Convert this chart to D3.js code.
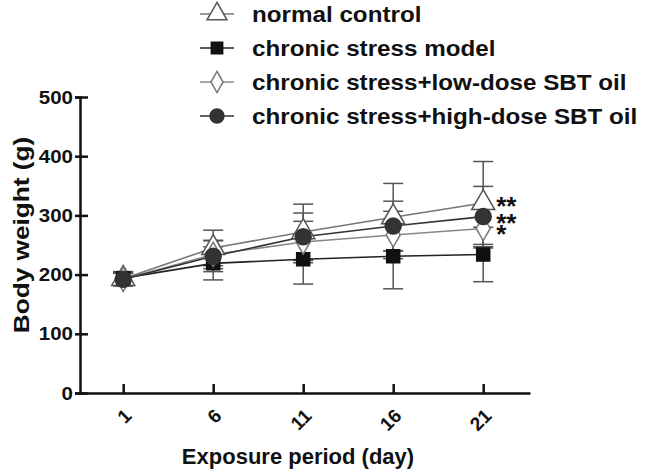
<!DOCTYPE html>
<html>
<head>
<meta charset="utf-8">
<script src="https://cdn.jsdelivr.net/npm/d3@7"></script>
<style>
  body { margin: 0; background: #fff; }
  text { font-family: Arial, "Liberation Sans", sans-serif; font-weight: bold; fill: #111; }
</style>
</head>
<body>
<svg id="chart" width="647" height="471"></svg>
<script>
const days = [1, 6, 11, 16, 21];
const seriesNames = ['normal control', 'chronic stress model', 'chronic stress+low-dose SBT oil', 'chronic stress+high-dose SBT oil'];
const normalMean = [193, 245, 272, 297, 321];
const normalSd = [12, 30, 47, 57, 70];
const modelMean = [194, 219, 226, 231, 234];
const modelSd = [11, 28, 42, 55, 46];
const lowMean = [192, 234, 255, 267, 278];
const lowSd = [10, 24, 35, 40, 33];
const highMean = [192, 231, 264, 282, 298];
const highSd = [11, 26, 40, 42, 51];
const stars = ['**', '', '*', '**'];
const yTicks = [0, 100, 200, 300, 400, 500];

const series = [
  {name: seriesNames[0], mean: normalMean, sd: normalSd, shape: d3.symbolTriangle, fill: '#fff', stroke: '#555', line: '#777', size: 230},
  {name: seriesNames[1], mean: modelMean, sd: modelSd, shape: d3.symbolSquare, fill: '#111', stroke: '#111', line: '#222', size: 170},
  {name: seriesNames[2], mean: lowMean, sd: lowSd, shape: d3.symbolDiamond, fill: '#fff', stroke: '#777', line: '#888', size: 170},
  {name: seriesNames[3], mean: highMean, sd: highSd, shape: d3.symbolCircle, fill: '#333', stroke: '#333', line: '#333', size: 200}
];

const svg = d3.select('#chart');
const x = d3.scaleLinear().domain([-1.4, 23.6]).range([80, 530]);
const y = d3.scaleLinear().domain([0, 500]).range([393, 97]);

//Widen a text a little: the figure's lettering is broader than Arial.
  function stretch(sel, k) {
      sel.each(function() {
          const w = this.getComputedTextLength();
          d3.select(this).attr('textLength', w * k).attr('lengthAdjust', 'spacingAndGlyphs');
      });
  }

//Axes.
  svg.append('g')
      .attr('transform', 'translate(80,0)')
      .call(d3.axisLeft(y).tickValues(yTicks).tickSize(5).tickPadding(2))
      .call(g => g.select('.domain').attr('stroke', '#111').attr('stroke-width', 2.5))
      .call(g => g.selectAll('.tick line').attr('stroke', '#111').attr('stroke-width', 2.5).attr('x2', 8).attr('x1', -5))
      .call(g => g.selectAll('.tick text').style('font-size', '19px').call(stretch, 1.08));

  svg.append('g')
      .attr('transform', 'translate(0,393)')
      .call(d3.axisBottom(x).tickValues(days).tickSize(-9).tickSizeOuter(0))
      .call(g => g.select('.domain').attr('stroke', '#111').attr('stroke-width', 2.5))
      .call(g => g.selectAll('.tick line').attr('stroke', '#111').attr('stroke-width', 2.5))
      .call(g => g.selectAll('.tick text')
          .style('font-size', '19px')
          .attr('text-anchor', 'end')
          .attr('dy', 0)
          .attr('transform', 'translate(7,22) rotate(-45)'));

  svg.append('text')
      .attr('x', 298).attr('y', 464)
      .attr('text-anchor', 'middle')
      .style('font-size', '22px')
      .text('Exposure period (day)');

  svg.append('text')
      .attr('transform', 'translate(29,235) rotate(-90)')
      .attr('text-anchor', 'middle')
      .style('font-size', '22px')
      .text('Body weight (g)')
      .call(stretch, 1.19);

//Error bars, lines and markers.
  series.forEach(s => {
      const g = svg.append('g');
      s.mean.forEach((m, i) => {
          const cx = x(days[i]);
          g.append('line')
              .attr('x1', cx).attr('x2', cx)
              .attr('y1', y(m - s.sd[i])).attr('y2', y(m + s.sd[i]))
              .attr('stroke', '#555').attr('stroke-width', 1.5);
          [m - s.sd[i], m + s.sd[i]].forEach(v =>
              g.append('line')
                  .attr('x1', cx - 10).attr('x2', cx + 10)
                  .attr('y1', y(v)).attr('y2', y(v))
                  .attr('stroke', '#555').attr('stroke-width', 1.5));
      });
  });

  series.forEach(s => {
      svg.append('path')
          .datum(s.mean)
          .attr('fill', 'none')
          .attr('stroke', s.line)
          .attr('stroke-width', 1.6)
          .attr('d', d3.line().x((d, i) => x(days[i])).y(d => y(d)));
  });

  series.forEach(s => {
      svg.append('g').selectAll('path')
          .data(s.mean)
          .join('path')
          .attr('transform', (d, i) => `translate(${x(days[i])},${y(d)})`)
          .attr('d', d3.symbol().type(s.shape).size(s.size))
          .attr('fill', s.fill)
          .attr('stroke', s.stroke)
          .attr('stroke-width', 1.5);
  });

//Significance marks at the last day.
  series.forEach((s, k) => {
      if (!stars[k]) return;
      svg.append('text')
          .attr('x', x(days[4]) + 13)
          .attr('y', y(s.mean[4]) + (k === 0 ? 12 : 15))
          .style('font-size', '26px')
          .text(stars[k]);
  });

//Legend.
  const legend = svg.append('g');
  series.forEach((s, k) => {
      const ly = 14 + k * 34;
      legend.append('line')
          .attr('x1', 200).attr('x2', 234)
          .attr('y1', ly).attr('y2', ly)
          .attr('stroke', s.line).attr('stroke-width', 1.6);
      legend.append('path')
          .attr('transform', `translate(217,${ly})`)
          .attr('d', d3.symbol().type(s.shape).size(s.size * 0.75))
          .attr('fill', s.fill)
          .attr('stroke', s.stroke)
          .attr('stroke-width', 1.5);
      legend.append('text')
          .attr('x', 252).attr('y', ly + 8)
          .style('font-size', '22px')
          .text(s.name)
          .call(stretch, 1.1);
  });
</script>
</body>
</html>
